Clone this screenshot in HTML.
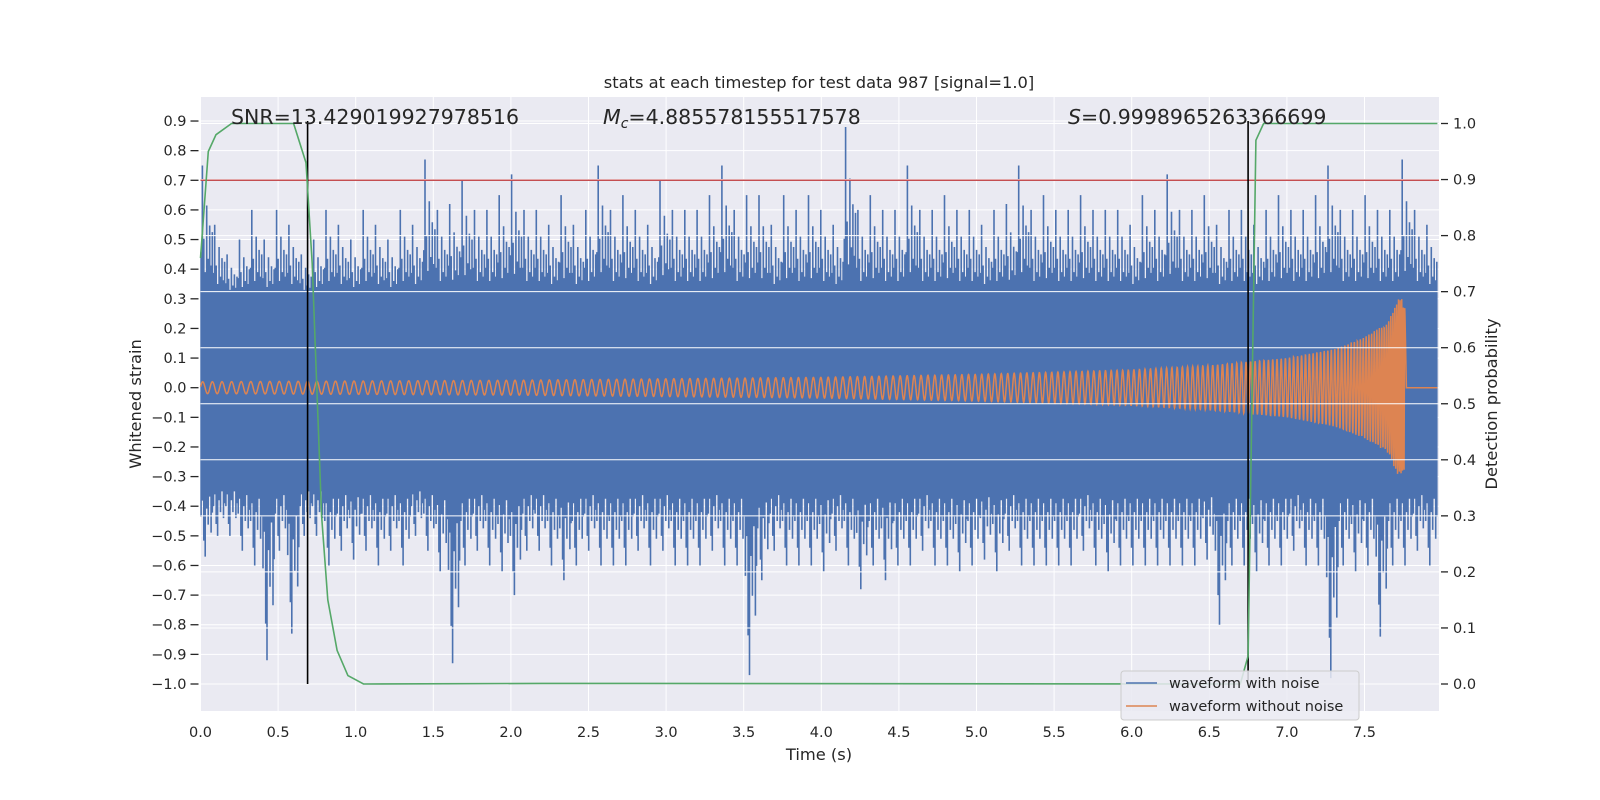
<!DOCTYPE html>
<html><head><meta charset="utf-8">
<style>
html,body{margin:0;padding:0;background:#fff;width:1600px;height:800px;overflow:hidden;position:relative;}
svg{display:block;position:absolute;left:0;top:0;}
svg text{font-family:"DejaVu Sans","Liberation Sans",sans-serif;fill:#262626;}
</style></head>
<body>
<svg id="chart" width="1600" height="800" viewBox="0 0 1600 800" xmlns="http://www.w3.org/2000/svg">
</svg>
<script>
// ---- data ----
const xTicks=[0,0.5,1,1.5,2,2.5,3,3.5,4,4.5,5,5.5,6,6.5,7,7.5];
const yTicks=[-1.0,-0.9,-0.8,-0.7,-0.6,-0.5,-0.4,-0.3,-0.2,-0.1,0.0,0.1,0.2,0.3,0.4,0.5,0.6,0.7,0.8,0.9];
const rTicks=[0,0.1,0.2,0.3,0.4,0.5,0.6,0.7,0.8,0.9,1.0];
const noiseUpper=[0.75,0.55,0.45,0.5,0.6,0.5,0.6,0.55,0.45,0.5,
0.6,0.55,0.5,0.6,0.55,0.5,0.6,0.55,0.77,0.6,
0.62,0.7,0.6,0.6,0.65,0.72,0.6,0.6,0.55,0.65,
0.55,0.6,0.75,0.6,0.65,0.6,0.55,0.7,0.6,0.6,
0.6,0.65,0.75,0.6,0.65,0.65,0.55,0.65,0.6,0.65,
0.6,0.55,0.88,0.6,0.65,0.6,0.6,0.75,0.6,0.6,
0.65,0.6,0.6,0.55,0.6,0.62,0.75,0.6,0.65,0.6,
0.6,0.65,0.6,0.6,0.6,0.55,0.65,0.6,0.72,0.6,
0.6,0.65,0.55,0.6,0.6,0.55,0.6,0.65,0.6,0.6,
0.65,0.75,0.6,0.6,0.65,0.6,0.6,0.77,0.6,0.55];
const noiseLower=[0.57,0.5,0.5,0.55,0.6,0.92,0.55,0.83,0.5,0.5,
0.6,0.55,0.58,0.55,0.6,0.55,0.6,0.5,0.55,0.62,
0.93,0.6,0.55,0.6,0.62,0.7,0.55,0.55,0.6,0.65,
0.6,0.55,0.6,0.6,0.6,0.55,0.6,0.55,0.6,0.6,
0.6,0.55,0.6,0.6,0.97,0.65,0.55,0.6,0.6,0.6,
0.62,0.55,0.6,0.68,0.6,0.65,0.6,0.6,0.55,0.6,
0.6,0.62,0.6,0.58,0.62,0.55,0.6,0.6,0.6,0.6,
0.6,0.55,0.6,0.62,0.6,0.6,0.6,0.6,0.6,0.6,
0.6,0.58,0.8,0.6,0.6,0.62,0.6,0.6,0.55,0.6,
0.6,0.98,0.6,0.62,0.6,0.84,0.6,0.6,0.55,0.6];
const noiseCore=0.3;
const chirpT=[0,2,4,5,6,6.5,7,7.3,7.5,7.65,7.72,7.76,7.77,7.97];
const chirpA=[0.02,0.025,0.035,0.045,0.06,0.075,0.1,0.13,0.17,0.22,0.3,0.3,0,0];
const probT=[0,0.05,0.1,0.2,0.6,0.68,0.72,0.78,0.82,0.88,0.95,1.05,2.2,6.7,6.75,6.8,6.85,7.97];
const probV=[0.76,0.95,0.98,1.0,1.0,0.93,0.75,0.3,0.15,0.06,0.015,0.0,0.001,0.0,0.05,0.97,1.0,1.0];
const threshold=0.7;
const markers=[0.69,6.75];

// ---- axes ----
const L=200.5,R=1439,T=97,B=711;
const X=t=>200.5+t*155.2;
const Y=v=>684-(v+1)*296.3;
const YR=p=>684-p*560.5;
const NS="http://www.w3.org/2000/svg";
const svg=document.getElementById('chart');
function mk(tag,attrs,parent){const e=document.createElementNS(NS,tag);for(const k in attrs)e.setAttribute(k,attrs[k]);(parent||svg).appendChild(e);return e;}
function interp(ts,vs,t){for(let i=0;i<ts.length-1;i++){if(t<=ts[i+1]){const f=(t-ts[i])/(ts[i+1]-ts[i]);return vs[i]+f*(vs[i+1]-vs[i]);}}return vs[vs.length-1];}

let bg=mk('rect',{x:L,y:T,width:R-L,height:B-T,fill:'#eaeaf2'});


for(const v of yTicks){mk('line',{x1:L,x2:R,y1:Y(v),y2:Y(v),stroke:'#fff','stroke-width':1});}
for(const t of xTicks){mk('line',{x1:X(t),x2:X(t),y1:T,y2:B,stroke:'#fff','stroke-width':1});}

// blue noise
const gN=mk('g',{});


mk('rect',{x:X(0),y:Y(noiseCore),width:X(7.97)-X(0),height:Y(-noiseCore)-Y(noiseCore),fill:'#4c72b0'},gN);
const bw=7.97/noiseUpper.length;
const sub=[[0.05,0.35,0.5],[0.15,1.0,0.3],[0.27,0.45,0.8],[0.38,0.2,1.0],[0.5,0.7,0.4],[0.62,0.3,0.6],[0.74,0.55,0.25],[0.86,0.25,0.7],[0.95,0.5,0.45]];
let d='';
for(let i=0;i<noiseUpper.length;i++){
  for(const s of sub){
    const t=(i+s[0])*bw;
    const up=noiseCore+(noiseUpper[i]-noiseCore)*s[1];
    const lo=noiseCore+(noiseLower[i]-noiseCore)*s[2];
    d+=`M${X(t).toFixed(1)} ${Y(up).toFixed(1)}V${Y(-lo).toFixed(1)}`;
  }
}
mk('path',{d:d,stroke:'#4c72b0','stroke-width':1.6,fill:'none'},gN);

// orange chirp
let pd='',ph=0,t=0;const dt=0.0015;
while(t<=7.97){
  const a=interp(chirpT,chirpA,t);
  const f=t<7.76?16*Math.pow(1-t/7.8,-0.375):0;
  ph+=2*Math.PI*f*dt;
  const v=a*Math.sin(ph);
  pd+=(pd?'L':'M')+X(t).toFixed(2)+' '+Y(v).toFixed(2);
  t+=dt;
}
let ch=mk('path',{d:pd,stroke:'#dd8452','stroke-width':1.5,fill:'none'});



for(const p of rTicks){mk('line',{x1:L,x2:R,y1:YR(p),y2:YR(p),stroke:'#fff','stroke-width':1});}

let th=mk('line',{x1:L,x2:R,y1:Y(threshold),y2:Y(threshold),stroke:'#c44e52','stroke-width':1.5});


for(const m of markers){
  let ml=mk('line',{x1:X(m),x2:X(m),y1:Y(0.9),y2:Y(-1.0),stroke:'#000','stroke-width':1.6});
  
  
}
let pp=probT.map((tt,i)=>(i?'L':'M')+X(tt).toFixed(1)+' '+YR(probV[i]).toFixed(1)).join('');
let pl=mk('path',{d:pp,stroke:'#55a868','stroke-width':1.6,fill:'none'});



for(const tt of xTicks){
  let tx=mk('text',{x:X(tt),y:B+26,'font-size':14.5,'text-anchor':'middle'});tx.textContent=tt.toFixed(1);
  
  
}
for(const v of yTicks){
  mk('line',{x1:L-10,x2:L-2,y1:Y(v),y2:Y(v),stroke:'#262626','stroke-width':1.3});
  let tx=mk('text',{x:L-14,y:Y(v)+5,'font-size':14.5,'text-anchor':'end'});tx.textContent=(v<0?'\u2212':'')+Math.abs(v).toFixed(1);
  
  
}
for(const p of rTicks){
  mk('line',{x1:R+2,x2:R+9,y1:YR(p),y2:YR(p),stroke:'#262626','stroke-width':1.3});
  let tx=mk('text',{x:R+14,y:YR(p)+5,'font-size':14.5});tx.textContent=p.toFixed(1);
  
  
}
</script>
<svg width="1600" height="800">
<text x="819" y="88" font-size="16.3" text-anchor="middle">stats at each timestep for test data 987 [signal=1.0]</text>
<text x="819" y="760" font-size="16.3" text-anchor="middle">Time (s)</text>
<text transform="translate(141,404) rotate(-90)" font-size="16.3" text-anchor="middle">Whitened strain</text>
<text transform="translate(1497,404) rotate(-90)" font-size="16.3" text-anchor="middle">Detection probability</text>
<text x="231" y="124" font-size="20.5">SNR=13.429019927978516</text>
<text x="603" y="124" font-size="20.5"><tspan font-style="italic">M</tspan><tspan font-style="italic" font-size="14" dy="4">c</tspan><tspan dy="-4">=4.885578155517578</tspan></text>
<text x="1068" y="124" font-size="20.5"><tspan font-style="italic">S</tspan>=0.9998965263366699</text>
<g>
<rect x="1121" y="671" width="238" height="49" rx="3" fill="#eaeaf2" fill-opacity="0.85" stroke="#cccccc"/>
<line x1="1126" x2="1157" y1="683" y2="683" stroke="#4c72b0" stroke-width="1.6"/>
<text x="1169" y="688" font-size="14.5">waveform with noise</text>
<line x1="1126" x2="1157" y1="706" y2="706" stroke="#dd8452" stroke-width="1.6"/>
<text x="1169" y="711" font-size="14.5">waveform without noise</text>
</g>
</svg>
</body></html>
